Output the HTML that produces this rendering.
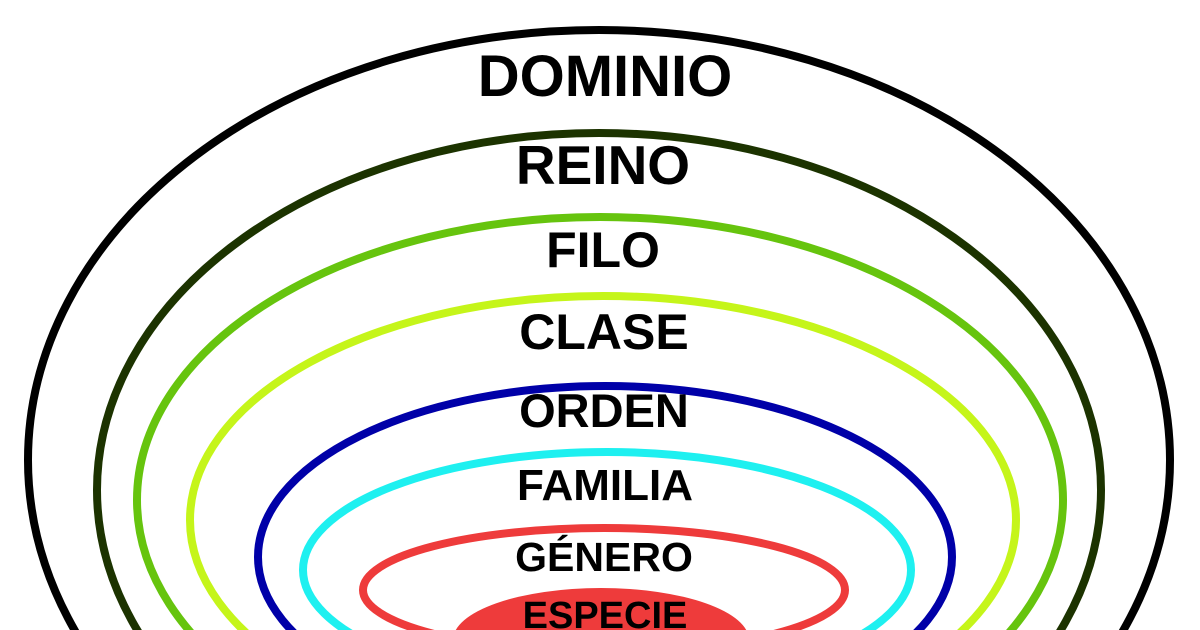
<!DOCTYPE html>
<html><head><meta charset="utf-8"><style>html,body{margin:0;padding:0;background:#fff;width:1200px;height:630px;overflow:hidden}svg{display:block}</style></head>
<body>
<svg width="1200" height="630" viewBox="0 0 1200 630" xmlns="http://www.w3.org/2000/svg" style="overflow:hidden">
<rect width="1200" height="630" fill="#fff"/>
<g fill="none" stroke-width="8">
<ellipse cx="599" cy="460" rx="571" ry="430" stroke="#000"/>
<ellipse cx="599" cy="490" rx="502" ry="357" stroke="#1c3300"/>
<ellipse cx="600" cy="500" rx="463" ry="283" stroke="#66c40e"/>
<ellipse cx="603" cy="520" rx="413" ry="224" stroke="#c5f51a"/>
<ellipse cx="605" cy="557" rx="347" ry="171" stroke="#0000a8"/>
<ellipse cx="607" cy="570" rx="304" ry="118" stroke="#1ef0f0"/>
<ellipse cx="604" cy="590" rx="241" ry="62" stroke="#ee3b3b"/>
</g>
<ellipse cx="601" cy="640" rx="148" ry="52" fill="#ee3b3b"/>
<g font-family="Liberation Sans, Arial, sans-serif" font-weight="bold" fill="#000" text-anchor="middle">
<text x="605" y="96" font-size="58">DOMINIO</text>
<text x="603" y="184" font-size="55">REINO</text>
<text x="603" y="267" font-size="50">FILO</text>
<text x="604" y="349" font-size="50">CLASE</text>
<text x="604" y="427" font-size="47">ORDEN</text>
<text x="605" y="500" font-size="44">FAMILIA</text>
<text x="604" y="571" font-size="41">GÉNERO</text>
<text x="605" y="628" font-size="38">ESPECIE</text>
</g>
</svg>
</body></html>
